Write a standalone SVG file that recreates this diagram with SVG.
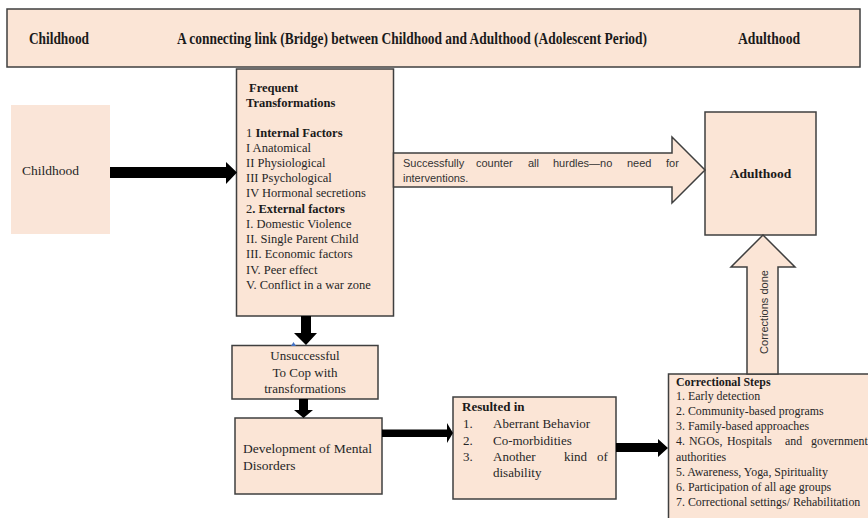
<svg xmlns="http://www.w3.org/2000/svg" width="868" height="518" viewBox="0 0 868 518">
<style>
.box{fill:#fbe5d6;stroke:#3f3f3f;stroke-width:1.5}
.nob{fill:#fae5d8;stroke:none}
.t{font-family:"Liberation Serif","Times New Roman",serif;fill:#262626}
.s{font-family:"Liberation Sans",Arial,sans-serif;fill:#333333;font-size:11px}
.b{font-weight:bold;fill:#1a1a1a}
.ban{font-family:"Liberation Serif","Times New Roman",serif;font-weight:bold;font-size:16px;fill:#1a1a1a}
.arr{fill:#000000;stroke:none}
.hollow{fill:#fbe5d6;stroke:#3f3f3f;stroke-width:1.5;stroke-linejoin:miter}
</style>
<rect width="868" height="518" fill="#ffffff"/>

<g id="banner">
<rect class="box" x="7" y="9" width="853" height="58"/>
<text class="ban" x="29" y="44" textLength="60" lengthAdjust="spacingAndGlyphs">Childhood</text>
<text class="ban" x="177" y="44" textLength="470" lengthAdjust="spacingAndGlyphs">A connecting link (Bridge) between Childhood and Adulthood (Adolescent Period)</text>
<text class="ban" x="738" y="44" textLength="62" lengthAdjust="spacingAndGlyphs">Adulthood</text>
</g>

<g id="childhood">
<rect class="nob" x="11" y="105" width="99" height="129"/>
<text class="t" x="22" y="175" font-size="13.5">Childhood</text>
</g>

<g id="transformations">
<rect class="box" x="236.5" y="69" width="157" height="247"/>
<g class="t" font-size="12.5">
<text class="b" x="249" y="92">Frequent</text>
<text class="b" x="246" y="107">Transformations</text>
<text x="246" y="137">1 <tspan class="b">Internal Factors</tspan></text>
<text x="246" y="152">I Anatomical</text>
<text x="246" y="167">II Physiological</text>
<text x="246" y="182">III Psychological</text>
<text x="246" y="197">IV Hormonal secretions</text>
<text x="246" y="213">2<tspan class="b">. External factors</tspan></text>
<text x="246" y="228">I. Domestic Violence</text>
<text x="246" y="243">II. Single Parent Child</text>
<text x="246" y="258">III. Economic factors</text>
<text x="246" y="274">IV. Peer effect</text>
<text x="246" y="289">V. Conflict in a war zone</text>
</g>
</g>

<g id="adulthood">
<rect class="box" x="705" y="112" width="111" height="123"/>
<text class="t b" x="760.5" y="178" font-size="13.5" text-anchor="middle">Adulthood</text>
</g>

<g id="unsuccessful">
<rect class="box" x="232" y="345.5" width="146" height="53.5"/>
<g class="t" font-size="13" text-anchor="middle">
<text x="305" y="360">Unsuccessful</text>
<text x="305" y="377">To Cop with</text>
<text x="305" y="393">transformations</text>
</g>
<polygon points="291,346 293.5,342 296,346" fill="#4472c4"/>
</g>

<g id="development">
<rect class="box" x="235" y="418" width="147" height="76"/>
<g class="t" font-size="13.5">
<text x="243" y="453">Development of Mental</text>
<text x="243" y="470">Disorders</text>
</g>
</g>

<g id="resulted">
<rect class="box" x="453" y="397" width="163" height="102"/>
<g class="t" font-size="13">
<text class="b" x="462" y="411">Resulted in</text>
<text x="463" y="428">1.</text><text x="493" y="428">Aberrant Behavior</text>
<text x="463" y="445">2.</text><text x="493" y="445">Co-morbidities</text>
<text x="463" y="461">3.</text><text x="493" y="461">Another</text><text x="564" y="461">kind</text><text x="597" y="461">of</text>
<text x="493" y="477">disability</text>
</g>
</g>

<g id="correctional">
<rect class="box" x="668.5" y="374" width="215" height="160"/>
<g class="t" font-size="11.9">
<text class="b" x="676" y="386">Correctional Steps</text>
<text x="676" y="400">1. Early detection</text>
<text x="676" y="415">2. Community-based programs</text>
<text x="676" y="430">3. Family-based approaches</text>
<text x="676" y="445">4.</text><text x="689" y="445">NGOs,</text><text x="727" y="445">Hospitals</text><text x="785" y="445">and</text><text x="811" y="445">government</text>
<text x="676" y="461">authorities</text>
<text x="676" y="476">5. Awareness, Yoga, Spirituality</text>
<text x="676" y="491">6. Participation of all age groups</text>
<text x="676" y="506">7. Correctional settings/ Rehabilitation</text>
</g>
</g>

<g id="connectors">
<polygon class="arr" points="110,167 226,167 226,162 237,172.5 226,184 226,178 110,178"/>
<polygon class="hollow" points="393.5,153 672,153 672,137 705,170 672,203 672,187 393.5,187"/>
<g class="s">
<text x="403" y="167">Successfully</text>
<text x="476" y="167">counter</text>
<text x="528" y="167">all</text>
<text x="553" y="167">hurdles—no</text>
<text x="627" y="167">need</text>
<text x="666" y="167">for</text>
<text x="403" y="182">interventions.</text>
</g>
<polygon class="hollow" points="747,374 747,267 731,267 763,235 795,267 778,267 778,374"/>
<text class="s" x="0" y="0" font-size="14" text-anchor="middle" transform="translate(768,312) rotate(-90)">Corrections done</text>
<polygon class="arr" points="301,316 311,316 311,333 317,333 306,345 294,333 301,333"/>
<polygon class="arr" points="299,399 308,399 308,410 313,410 303.5,418 294,410 299,410"/>
<polygon class="arr" points="382,429.5 447,429.5 447,423 453,433 447,443 447,437 382,437"/>
<polygon class="arr" points="616,443 658,443 658,439 668,448 658,457 658,452 616,452"/>
</g>
</svg>
